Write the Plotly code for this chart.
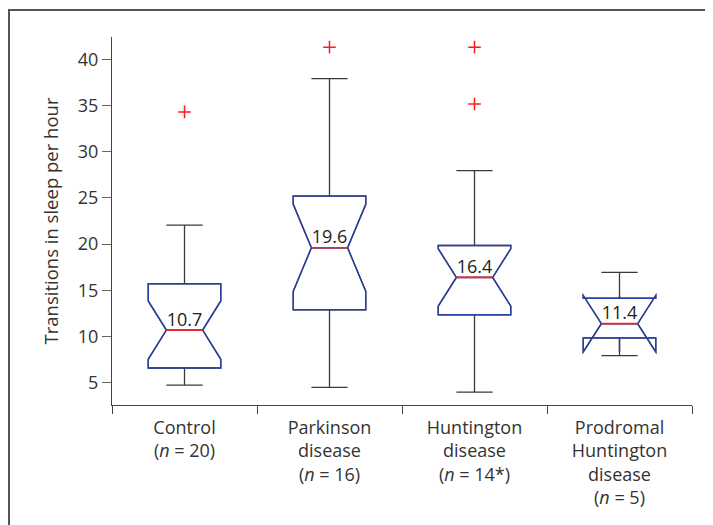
import plotly.graph_objects as go

categories = ["Control<br>(<i>n</i> = 20)",
              "Parkinson<br>disease<br>(<i>n</i> = 16)",
              "Huntington<br>disease<br>(<i>n</i> = 14*)",
              "Prodromal<br>Huntington<br>disease<br>(<i>n</i> = 5)"]
positions = [1, 2, 3, 4]
q1 = [6.6, 12.9, 12.35, 9.85]
median = [10.7, 19.6, 16.4, 11.4]
q3 = [15.7, 25.2, 19.85, 14.15]
lowerfence = [4.75, 4.5, 4.0, 7.95]
upperfence = [22.05, 37.9, 27.95, 16.95]
notchspan = [3.15, 4.7, 3.1, 3.05]
median_labels = ["10.7", "19.6", "16.4", "11.4"]
outlier_x = [1, 2, 3, 3]
outlier_y = [34.3, 41.3, 41.3, 35.15]
y_ticks = [5, 10, 15, 20, 25, 30, 35, 40]

BOX_W = 0.5
NOTCH_W = 0.25
BLUE = "#2b3f9e"
FONT = "Open Sans"
ML, MR, MT, MB = 104, 29, 29, 128
PW, PH = 713 - ML - MR, 525 - MT - MB

fig = go.Figure()
# whiskers (dark grey)
fig.add_trace(go.Box(x=positions, q1=q1, median=median, q3=q3,
                     lowerfence=lowerfence, upperfence=upperfence,
                     notchspan=notchspan, notched=True, notchwidth=NOTCH_W,
                     width=BOX_W, whiskerwidth=0.5, boxpoints=False,
                     line=dict(color="#3a3a3a", width=1.3),
                     fillcolor="rgba(0,0,0,0)", hoverinfo="skip", showlegend=False))
# notched boxes (blue)
fig.add_trace(go.Box(x=positions, q1=q1, median=median, q3=q3,
                     lowerfence=q1, upperfence=q3,
                     notchspan=notchspan, notched=True, notchwidth=NOTCH_W,
                     width=BOX_W, whiskerwidth=0, boxpoints=False,
                     line=dict(color=BLUE, width=1.5),
                     fillcolor="rgba(0,0,0,0)", showlegend=False))
# red median lines
mx, my = [], []
half = BOX_W / 2 * (1 - 2 * NOTCH_W)
for p, m in zip(positions, median):
    mx += [p - half, p + half, None]
    my += [m, m, None]
fig.add_trace(go.Scatter(x=mx, y=my, mode="lines",
                         line=dict(color="#ee2828", width=1.6),
                         hoverinfo="skip", showlegend=False))
# median labels
fig.add_trace(go.Scatter(x=positions, y=median, mode="text", text=median_labels,
                         textposition="top center",
                         textfont=dict(family=FONT, size=18, color="#222"),
                         hoverinfo="skip", showlegend=False))
# outliers
fig.add_trace(go.Scatter(x=outlier_x, y=outlier_y, mode="markers",
                         marker=dict(symbol="cross-thin", size=9,
                                     line=dict(color="#ff1a1a", width=1.5)),
                         showlegend=False))

fig.update_layout(
    width=713, height=525,
    margin=dict(l=ML, r=MR, t=MT, b=MB),
    paper_bgcolor="white", plot_bgcolor="white",
    font=dict(family=FONT, size=18, color="#333"),
    showlegend=False,
    shapes=[dict(type="rect", xref="paper", yref="paper",
                 x0=(1 - ML) / PW, x1=1.3,
                 y0=-0.6, y1=1 + (MT - 2) / PH,
                 line=dict(color="#555", width=2), layer="above")],
)
fig.update_xaxes(range=[0.5, 4.5], tickvals=positions, ticktext=categories,
                 automargin=False,
                 ticks="outside", ticklen=6, tickcolor="rgba(0,0,0,0)",
                 showline=True, linecolor="#444", linewidth=1.3,
                 showgrid=False, zeroline=False,
                 tickfont=dict(family=FONT, size=18, color="#333"),
                 minor=dict(tickvals=[0.5, 1.5, 2.5, 3.5, 4.5], ticks="outside",
                            ticklen=8, tickcolor="#444", tickwidth=1.3, showgrid=False))
fig.update_yaxes(range=[2.6, 42.4], tickvals=y_ticks, automargin=False,
                 ticks="outside", ticklen=9, tickcolor="#666", tickwidth=1.3,
                 showline=True, linecolor="#444", linewidth=1.3,
                 showgrid=False, zeroline=False,
                 tickfont=dict(family=FONT, size=18, color="#333"),
                 title=dict(text="Transitions in sleep per hour", standoff=14,
                            font=dict(family=FONT, size=18.5, color="#333")))

fig.write_html("out.html")
